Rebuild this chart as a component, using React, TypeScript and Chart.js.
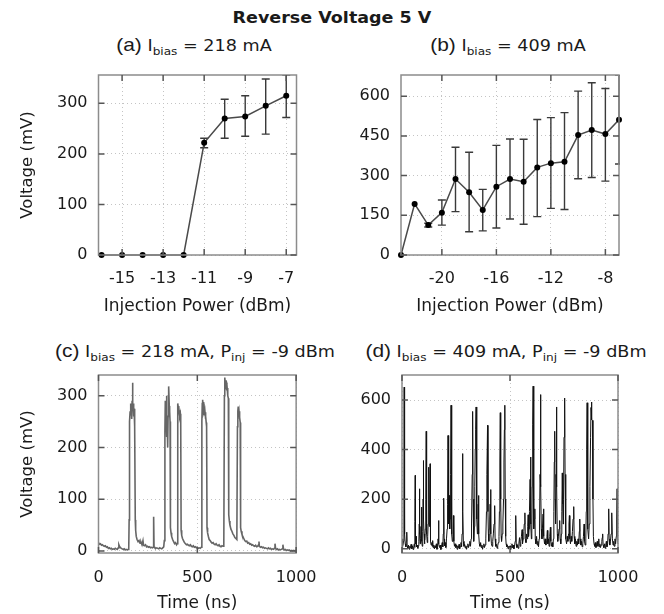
import React, { useEffect, useRef } from "react";
import { Chart, registerables } from "chart.js";

Chart.register(...registerables);

// ---------- Panel (a): Ibias = 218 mA ----------
const powerA = [-16, -15, -14, -13, -12, -11, -10, -9, -8, -7];
const voltA = [0, 0, 0, 0, 0, 222, 270, 274, 295, 315];
const errLowA = [0, 0, 0, 0, 0, 212, 231, 235, 239, 272];
const errHighA = [0, 0, 0, 0, 0, 231, 308, 315, 348, 356];
const xTicksA = [-15, -13, -11, -9, -7];
const yTicksA = [0, 100, 200, 300];

// ---------- Panel (b): Ibias = 409 mA ----------
const powerB = [-23, -22, -21, -20, -19, -18, -17, -16, -15, -14, -13, -12, -11, -10, -9, -8, -7];
const voltB = [0, 193, 113, 160, 287, 237, 170, 258, 287, 277, 331, 347, 352, 453, 472, 457, 511];
const errLowB = [0, 193, 106, 113, 164, 88, 91, 102, 136, 116, 145, 176, 172, 288, 293, 279, 344];
const errHighB = [0, 193, 120, 208, 407, 388, 248, 414, 438, 437, 512, 519, 538, 619, 651, 629, 680];
const xTicksB = [-20, -16, -12, -8];
const yTicksB = [0, 150, 300, 450, 600];

// ---------- Panel (c): time trace, Ibias = 218 mA, Pinj = -9 dBm ----------
const traceC: [number, number][] = [
  [0, 16], [5, 13], [10, 14], [15, 11], [20, 12], [25, 10], [30, 9], [35, 10], [40, 7], [45, 8],
  [50, 5], [55, 6], [60, 4], [65, 5], [70, 3], [75, 4], [80, 3], [85, 5], [90, 4], [95, 3],
  [100, 6], [103, 12], [106, 9], [110, 7], [115, 5], [120, 4], [125, 3], [130, 4], [135, 2], [140, 3],
  [145, 2], [150, 3], [153, 4],
  [155, 60], [157, 250], [160, 270], [162, 285], [164, 262], [166, 280], [168, 255], [170, 290], [172, 325],
  [174, 270], [176, 285], [178, 260], [180, 275], [182, 258], [184, 240], [186, 60], [188, 40], [191, 28],
  [195, 22], [200, 18], [205, 20], [210, 15], [215, 17], [220, 12], [225, 20], [228, 11], [232, 10],
  [238, 12], [243, 8], [248, 9], [253, 7], [258, 8], [263, 6], [268, 7], [273, 6], [277, 7], [279, 66],
  [281, 8], [285, 6], [290, 5], [295, 6], [300, 5], [305, 4], [310, 6], [315, 5], [320, 4], [325, 6],
  [330, 8], [333, 20],
  [336, 230], [338, 290], [340, 285], [342, 260], [344, 300], [346, 220], [348, 240], [350, 200],
  [352, 260], [354, 300], [356, 318], [358, 280], [360, 270], [362, 250], [364, 45], [367, 35],
  [370, 28], [375, 22], [380, 18], [385, 14], [390, 16], [395, 12], [398, 14],
  [400, 240], [402, 285], [404, 275], [406, 280], [408, 268], [410, 272], [412, 260], [414, 265],
  [416, 250], [418, 40], [421, 30], [425, 24], [430, 20], [435, 16], [440, 14], [445, 12], [450, 13],
  [455, 11], [460, 10], [465, 12], [470, 9], [475, 8], [480, 10], [485, 7], [490, 8], [495, 6],
  [500, 7], [505, 5], [510, 6], [515, 5], [520, 7],
  [523, 250], [525, 285], [527, 292], [529, 280], [531, 288], [533, 270], [535, 275], [537, 262],
  [539, 268], [541, 255], [543, 260], [545, 248], [547, 240], [549, 45], [552, 35], [556, 28],
  [560, 22], [565, 20], [570, 17], [575, 15], [580, 16], [585, 13], [590, 12], [595, 14], [600, 11],
  [605, 10], [610, 12], [615, 9], [620, 8], [625, 10], [630, 9], [634, 12],
  [637, 300], [639, 335], [641, 325], [643, 330], [645, 318], [647, 322], [649, 310], [651, 315],
  [653, 305], [655, 300], [657, 295], [659, 70], [662, 58], [665, 50], [670, 42], [675, 38],
  [680, 33], [685, 30], [690, 26], [695, 24], [700, 22],
  [703, 240], [705, 270], [707, 279], [709, 265], [711, 270], [713, 255], [715, 258], [717, 248],
  [719, 45], [722, 38], [726, 32], [730, 28], [735, 24], [740, 20], [745, 18], [750, 19], [755, 15],
  [760, 16], [765, 13], [770, 14], [775, 11], [780, 12], [785, 10], [790, 9], [795, 11], [800, 8],
  [805, 9], [810, 12], [812, 18], [814, 9], [820, 7], [825, 8], [830, 6], [835, 7], [840, 5],
  [845, 6], [850, 5], [855, 4], [860, 6], [865, 4], [870, 5], [875, 3], [880, 4], [885, 3], [890, 5],
  [893, 14], [896, 5], [900, 3], [905, 4], [910, 2], [915, 3], [920, 2], [925, 3], [930, 4],
  [933, 12], [936, 4], [940, 2], [945, 3], [950, 1], [955, 2], [960, 1], [965, 2], [970, 0],
  [975, 1], [980, 0], [985, 1], [990, 0], [995, 1], [1000, 0],
];
const xTicksC = [0, 500, 1000];
const yTicksC = [0, 100, 200, 300];

// ---------- Panel (d): time trace, Ibias = 409 mA, Pinj = -9 dBm ----------
const traceD: [number, number][] = [
  [0, 5], [2, 40], [4, 12], [7, 30], [9, 200], [10, 652], [11, 300], [12, 334], [13, 60], [15, 20],
  [18, 8], [20, 30], [22, 67], [24, 10], [27, 2], [30, 15], [33, -2], [36, 10], [39, 4], [42, 18],
  [45, 0], [48, 12], [51, -3], [54, 8], [57, 20], [59, 5], [60, 110], [61, 296], [62, 80], [63, 20],
  [65, 50], [67, 8], [70, 15], [73, 2], [76, 12], [78, 30], [80, 100], [81, 242], [82, 60], [84, 20],
  [86, 40], [88, 90], [90, 168], [92, 30], [94, 10], [96, 70], [98, 200], [99, 356], [100, 120],
  [102, 60], [104, 20], [106, 35], [108, 80], [110, 200], [112, 474], [113, 150], [115, 60],
  [117, 25], [119, 50], [121, 100], [123, 250], [124, 329], [126, 90], [128, 120], [130, 343],
  [131, 100], [133, 30], [135, 15], [138, 25], [140, 10], [142, 33], [144, 5], [147, 15], [150, 0],
  [153, 12], [156, 5], [159, 20], [162, -2], [165, 10], [167, 40], [169, 114], [171, 20], [174, 5],
  [177, 15], [180, -3], [183, 10], [186, 25], [189, 8], [191, 60], [193, 204], [195, 40], [197, 12],
  [200, 25], [203, 5], [206, 40], [209, 80], [211, 180], [213, 457], [215, 150], [217, 100],
  [219, 215], [221, 80], [223, 120], [225, 300], [227, 579], [229, 200], [231, 60], [233, 30],
  [236, 50], [238, 134], [240, 30], [243, 10], [246, 20], [249, 5], [252, 15], [255, -2], [258, 12],
  [261, 4], [264, 18], [267, 0], [270, 10], [273, 25], [276, 8], [278, 60], [280, 200], [281, 384],
  [282, 150], [284, 30], [287, 10], [290, 18], [293, 3], [296, 12], [299, -2], [302, 10], [305, 20],
  [308, 5], [311, 15], [314, 30], [317, 10], [320, 40], [322, 100], [325, 300], [327, 554],
  [329, 200], [331, 60], [333, 30], [335, 90], [337, 250], [339, 400], [341, 480], [343, 572],
  [345, 250], [347, 120], [349, 60], [351, 100], [353, 180], [354, 215], [356, 60], [358, 20],
  [361, 10], [364, 25], [367, 5], [370, 15], [373, -2], [376, 10], [379, 20], [382, 5], [385, 15],
  [388, 40], [391, 150], [393, 300], [396, 498], [398, 150], [400, 60], [402, 30], [404, 80],
  [406, 120], [408, 180], [410, 239], [412, 60], [414, 20], [417, 10], [420, 30], [423, 60],
  [426, 100], [429, 174], [431, 40], [434, 10], [437, 18], [440, 2], [443, 12], [446, 25], [449, 50],
  [451, 150], [453, 350], [455, 549], [457, 200], [459, 50], [461, 30], [464, 60], [467, 100],
  [470, 200], [472, 350], [474, 480], [476, 579], [478, 200], [480, 50], [482, 20], [485, 8],
  [488, 15], [491, 0], [494, 10], [497, 5], [500, 12], [503, -3], [506, 8], [509, 20], [512, 4],
  [515, 15], [518, 0], [521, 10], [524, 30], [526, 80], [527, 134], [529, 20], [532, 5], [535, 15],
  [538, 2], [541, 20], [544, 45], [547, 10], [550, 30], [553, 50], [556, 77], [558, 20], [561, 40],
  [564, 70], [566, 100], [569, 145], [571, 40], [574, 25], [577, 60], [580, 40], [582, 90],
  [584, 137], [586, 50], [588, 80], [590, 150], [593, 280], [595, 370], [597, 100], [599, 40],
  [601, 60], [603, 250], [605, 500], [607, 656], [609, 200], [611, 80], [613, 120], [615, 161],
  [617, 40], [620, 20], [623, 50], [626, 15], [629, 30], [632, 8], [635, 40], [637, 100], [639, 300],
  [641, 622], [643, 250], [645, 80], [648, 40], [651, 100], [653, 140], [655, 161], [657, 50],
  [660, 20], [663, 40], [666, 15], [669, 30], [671, 50], [673, 74], [675, 20], [678, 40], [681, 10],
  [684, 50], [687, 87], [689, 30], [692, 10], [695, 25], [698, 8], [701, 40], [703, 150], [705, 350],
  [707, 474], [709, 200], [711, 100], [713, 300], [715, 572], [717, 250], [719, 60], [721, 30],
  [724, 50], [727, 80], [730, 114], [732, 40], [735, 20], [738, 60], [740, 150], [742, 306],
  [744, 180], [746, 100], [748, 200], [750, 450], [753, 608], [755, 300], [757, 100], [759, 40],
  [762, 20], [765, 50], [768, 30], [771, 60], [773, 100], [775, 134], [777, 40], [780, 20], [783, 50],
  [786, 30], [789, 70], [792, 120], [795, 170], [797, 50], [800, 20], [803, 40], [806, 10], [809, 30],
  [812, 15], [815, 40], [818, 20], [821, 70], [823, 120], [825, 40], [828, 15], [831, 30], [834, 8],
  [837, 20], [840, 50], [843, 100], [845, 30], [848, 15], [851, 40], [853, 150], [855, 400],
  [857, 589], [859, 250], [861, 80], [864, 40], [867, 100], [870, 250], [873, 450], [875, 570],
  [877, 592], [879, 520], [882, 518], [884, 200], [886, 50], [889, 20], [892, 10], [895, 25], [898, 5],
  [901, 15], [904, 30], [907, 10], [909, 25], [911, 40], [913, 8], [916, 20], [919, 5], [922, 15],
  [925, 30], [927, 45], [929, 60], [931, 15], [934, 5], [937, 20], [940, 2], [943, 15], [946, 30],
  [949, 8], [952, 20], [954, 60], [957, 161], [959, 40], [962, 15], [965, 30], [968, 60], [970, 100],
  [972, 145], [974, 40], [977, 15], [980, 30], [983, 10], [986, 40], [989, 20], [992, 50], [994, 120],
  [996, 242], [998, 60], [1000, 20],
];
const xTicksD = [0, 500, 1000];
const yTicksD = [0, 200, 400, 600];

const FONT = "'DejaVu Sans', sans-serif";
const TEXT = "#1a1a1a";

type Spec = {
  left: number; top: number; width: number; height: number;
  yAxisW: number; padRight: number; padTop: number; xAxisH: number;
  xMin: number; xMax: number; yMin: number; yMax: number;
  xTicks: number[]; yTicks: number[];
  xTitle: string; yTitle?: string; xTitlePad: number; xTickPad: number;
  points: { x: number; y: number }[];
  errLow?: number[]; errHigh?: number[];
  markers: boolean; lineColor: string; lineWidth: number;
};

function frameAndErrors(spec: Spec) {
  return {
    id: "frameAndErrors",
    beforeDatasetsDraw(chart: any) {
      if (!spec.errLow || !spec.errHigh) return;
      const { ctx, chartArea: a } = chart;
      const xs = chart.scales.x, ys = chart.scales.y;
      ctx.save();
      ctx.beginPath();
      ctx.rect(a.left - 1, a.top, a.right - a.left + 2, a.bottom - a.top);
      ctx.clip();
      ctx.strokeStyle = "#3a3a3a";
      ctx.lineWidth = 1.4;
      spec.points.forEach((p, i) => {
        const lo = spec.errLow![i], hi = spec.errHigh![i];
        if (hi - lo < 1) return;
        const px = xs.getPixelForValue(p.x);
        const yl = ys.getPixelForValue(lo), yh = ys.getPixelForValue(hi);
        ctx.beginPath();
        ctx.moveTo(px, yl); ctx.lineTo(px, yh);
        ctx.moveTo(px - 4, yl); ctx.lineTo(px + 4, yl);
        ctx.moveTo(px - 4, yh); ctx.lineTo(px + 4, yh);
        ctx.stroke();
      });
      ctx.restore();
    },
    afterDraw(chart: any) {
      const { ctx, chartArea: a } = chart;
      const xs = chart.scales.x, ys = chart.scales.y;
      ctx.save();
      ctx.strokeStyle = "#8c8c8c";
      ctx.lineWidth = 1.5;
      ctx.strokeRect(a.left, a.top, a.right - a.left, a.bottom - a.top);
      ctx.strokeStyle = "#555";
      ctx.lineWidth = 1.5;
      const L = 6;
      ctx.beginPath();
      spec.xTicks.forEach((v) => {
        const px = xs.getPixelForValue(v);
        ctx.moveTo(px, a.bottom); ctx.lineTo(px, a.bottom - L);
        ctx.moveTo(px, a.top); ctx.lineTo(px, a.top + L);
      });
      spec.yTicks.forEach((v) => {
        const py = ys.getPixelForValue(v);
        ctx.moveTo(a.left, py); ctx.lineTo(a.left + L, py);
        ctx.moveTo(a.right, py); ctx.lineTo(a.right - L, py);
      });
      ctx.stroke();
      ctx.restore();
    },
  };
}

function makeConfig(spec: Spec): any {
  const tickFont = { family: FONT, size: 16 };
  return {
    type: "scatter",
    data: {
      datasets: [
        {
          data: spec.points,
          showLine: true,
          borderColor: spec.lineColor,
          borderWidth: spec.lineWidth,
          pointRadius: spec.markers ? 3 : 0,
          pointBackgroundColor: "#000",
          pointBorderColor: "#000",
          pointBorderWidth: 0,
          tension: 0,
          clip: spec.markers ? false : 0,
        },
      ],
    },
    options: {
      responsive: false,
      animation: false,
      devicePixelRatio: 1,
      events: [],
      layout: { padding: { left: 0, right: spec.padRight, top: spec.padTop, bottom: 0 } },
      plugins: { legend: { display: false }, tooltip: { enabled: false }, title: { display: false } },
      scales: {
        x: {
          type: "linear",
          min: spec.xMin,
          max: spec.xMax,
          bounds: "data",
          afterBuildTicks: (s: any) => { s.ticks = spec.xTicks.map((v) => ({ value: v })); },
          afterFit: (s: any) => { s.height = spec.xAxisH; },
          grid: { color: "#c4c4c4", lineWidth: 1, drawTicks: false },
          border: { display: false, dash: [1, 3] },
          ticks: {
            padding: spec.xTickPad, color: TEXT, font: tickFont, maxRotation: 0, autoSkip: false,
            callback: (v: number) => String(v),
          },
          title: {
            display: true, text: spec.xTitle, color: TEXT, font: { family: FONT, size: 17 },
            padding: { top: 0, bottom: spec.xTitlePad },
          },
        },
        y: {
          type: "linear",
          min: spec.yMin,
          max: spec.yMax,
          bounds: "data",
          afterBuildTicks: (s: any) => { s.ticks = spec.yTicks.map((v) => ({ value: v })); },
          afterFit: (s: any) => { s.width = spec.yAxisW; },
          grid: { color: "#c4c4c4", lineWidth: 1, drawTicks: false },
          border: { display: false, dash: [1, 3] },
          ticks: {
            padding: 11, color: TEXT, font: tickFont, autoSkip: false,
            callback: (v: number) => String(v),
          },
          title: {
            display: !!spec.yTitle, text: spec.yTitle || "", color: TEXT, font: { family: FONT, size: 16.5 },
            padding: { top: 18, bottom: 0 },
          },
        },
      },
    },
    plugins: [frameAndErrors(spec)],
  };
}

function Panel({ spec }: { spec: Spec }) {
  const ref = useRef<HTMLCanvasElement>(null);
  useEffect(() => {
    const chart = new Chart(ref.current as HTMLCanvasElement, makeConfig(spec));
    return () => chart.destroy();
  }, []);
  return (
    <canvas
      ref={ref}
      width={spec.width}
      height={spec.height}
      style={{ position: "absolute", left: spec.left, top: spec.top, width: spec.width, height: spec.height }}
    />
  );
}

const toPoints = (xs: number[], ys: number[]) => xs.map((x, i) => ({ x, y: ys[i] }));
const pairPoints = (arr: [number, number][]) => arr.map(([x, y]) => ({ x, y }));

const specA: Spec = {
  left: 0, top: 0, width: 332, height: 320,
  yAxisW: 98.5, padRight: 35.5, padTop: 75, xAxisH: 65,
  xMin: -16.15, xMax: -6.5, yMin: 0, yMax: 356,
  xTicks: xTicksA, yTicks: yTicksA,
  xTitle: "Injection Power (dBm)", yTitle: "Voltage (mV)", xTitlePad: 3, xTickPad: 14,
  points: toPoints(powerA, voltA), errLow: errLowA, errHigh: errHighA,
  markers: true, lineColor: "#4a4a4a", lineWidth: 1.5,
};
const specB: Spec = {
  left: 332, top: 0, width: 332, height: 320,
  yAxisW: 69, padRight: 45, padTop: 75, xAxisH: 65,
  xMin: -23, xMax: -7, yMin: 0, yMax: 680,
  xTicks: xTicksB, yTicks: yTicksB,
  xTitle: "Injection Power (dBm)", xTitlePad: 3, xTickPad: 14,
  points: toPoints(powerB, voltB), errLow: errLowB, errHigh: errHighB,
  markers: true, lineColor: "#4a4a4a", lineWidth: 1.5,
};
const specC: Spec = {
  left: 0, top: 307, width: 332, height: 307,
  yAxisW: 98.5, padRight: 35.5, padTop: 68, xAxisH: 61,
  xMin: 0, xMax: 1000, yMin: -4, yMax: 340,
  xTicks: xTicksC, yTicks: yTicksC,
  xTitle: "Time (ns)", yTitle: "Voltage (mV)", xTitlePad: 0, xTickPad: 15.5,
  points: pairPoints(traceC),
  markers: false, lineColor: "#666", lineWidth: 1.6,
};
const specD: Spec = {
  left: 332, top: 307, width: 332, height: 307,
  yAxisW: 70, padRight: 46, padTop: 68, xAxisH: 61,
  xMin: 0, xMax: 1000, yMin: -17, yMax: 701,
  xTicks: xTicksD, yTicks: yTicksD,
  xTitle: "Time (ns)", xTitlePad: 0, xTickPad: 15.5,
  points: pairPoints(traceD),
  markers: false, lineColor: "#111", lineWidth: 1,
};

const subStyle: React.CSSProperties = { fontSize: 11, position: "relative", top: 4 };
const tagStyle: React.CSSProperties = { fontFamily: "'Liberation Sans', sans-serif", fontSize: 19 };

function Subtitle({ cx, top, children }: { cx: number; top: number; children: React.ReactNode }) {
  return (
    <div
      style={{
        position: "absolute", left: cx, top, transform: "translateX(-50%) scaleX(1.1)", whiteSpace: "nowrap",
        fontFamily: FONT, fontSize: 16, lineHeight: "22px", color: TEXT,
      }}
    >
      {children}
    </div>
  );
}

export default function App() {
  return (
    <div style={{ position: "absolute", left: 0, top: 0, width: 664, height: 614, background: "#fff", overflow: "hidden" }}>
      <div
        style={{
          position: "absolute", left: 0, width: 664, top: 9, textAlign: "center",
          fontFamily: FONT, fontWeight: "bold", fontSize: 15.5, lineHeight: "18px", color: TEXT,
          transform: "scaleX(1.13)",
        }}
      >
        Reverse Voltage 5 V
      </div>
      <Subtitle cx={194} top={34}>
        <span style={tagStyle}>(a)</span> I<span style={subStyle}>bias</span> = 218 mA
      </Subtitle>
      <Subtitle cx={508} top={34}>
        <span style={tagStyle}>(b)</span> I<span style={subStyle}>bias</span> = 409 mA
      </Subtitle>
      <Subtitle cx={195} top={340}>
        <span style={tagStyle}>(c)</span> I<span style={subStyle}>bias</span> = 218 mA, P<span style={subStyle}>inj</span> = -9 dBm
      </Subtitle>
      <Subtitle cx={506} top={340}>
        <span style={tagStyle}>(d)</span> I<span style={subStyle}>bias</span> = 409 mA, P<span style={subStyle}>inj</span> = -9 dBm
      </Subtitle>
      <Panel spec={specA} />
      <Panel spec={specB} />
      <Panel spec={specC} />
      <Panel spec={specD} />
    </div>
  );
}
